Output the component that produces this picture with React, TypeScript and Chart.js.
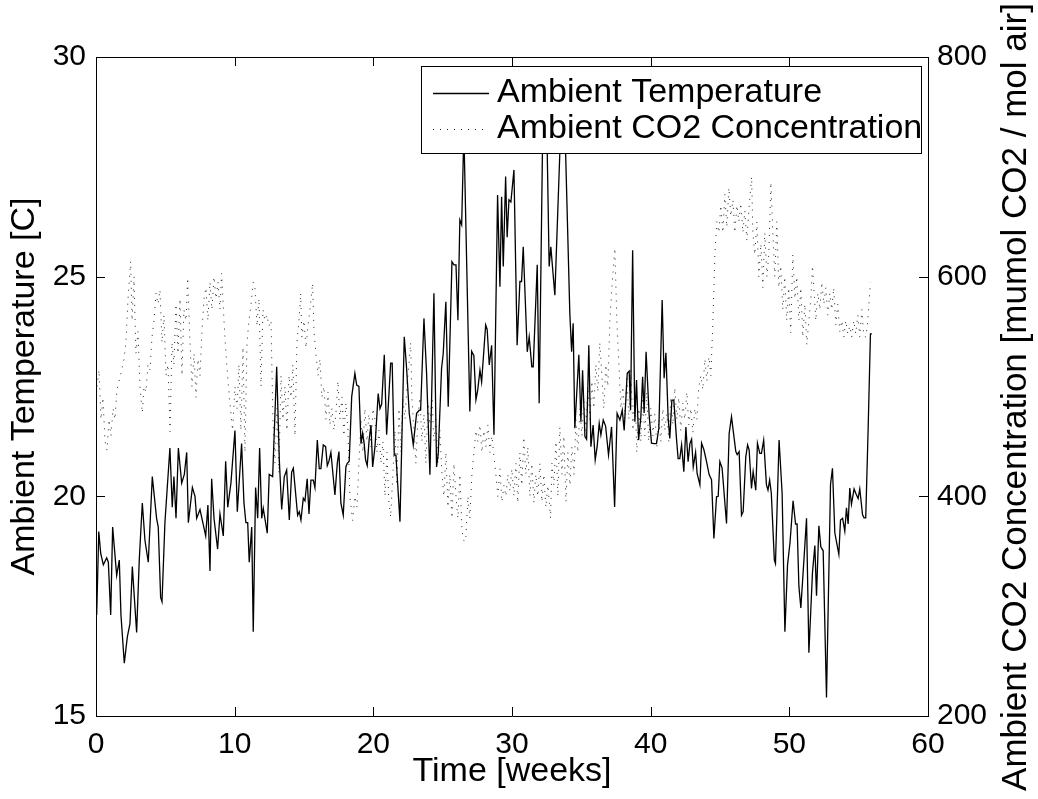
import { useEffect, useRef } from "react";
import { Chart, registerables } from "chart.js";

Chart.register(...registerables);

const FONT = '"Liberation Sans", Arial, Helvetica, sans-serif';

const xTicks = [0, 10, 20, 30, 40, 50, 60];
const tempTicks = [15, 20, 25, 30];
const co2Ticks = [200, 400, 600, 800];

const tempLabel = "Ambient Temperature";
const co2Label = "Ambient CO2 Concentration";
const xTitle = "Time [weeks]";
const leftTitle = "Ambient Temperature [C]";
const rightTitle = "Ambient CO2 Concentration [mumol CO2 / mol air]";

// [week, temperature C]
const tempSeries: [number, number][] = [
  [0.05, 17.3], [0.2, 19.2], [0.34, 18.7], [0.53, 18.44], [0.77, 18.6], [0.89, 18.5], [1.06, 17.3], [1.2, 19.3],
  [1.49, 18.2], [1.68, 18.55], [1.8, 17.3], [2.04, 16.2], [2.26, 16.8], [2.45, 17.1], [2.62, 18.4], [2.93, 16.9],
  [3.12, 18.55], [3.34, 19.85], [3.53, 19.0], [3.77, 18.5], [4.06, 20.45], [4.37, 19.5], [4.49, 19.3], [4.66, 17.7],
  [4.76, 17.6], [4.97, 19.4], [5.33, 21.1], [5.5, 19.75], [5.62, 20.45], [5.77, 19.5], [5.94, 21.1], [6.18, 20.3],
  [6.37, 20.5], [6.54, 21.0], [6.66, 19.4], [6.95, 20.2], [7.14, 20.0], [7.26, 19.5], [7.5, 19.7], [7.74, 19.35],
  [7.91, 19.1], [8.07, 19.8], [8.22, 18.3], [8.34, 20.4], [8.51, 19.5], [8.77, 18.8], [8.94, 19.6], [9.18, 19.1],
  [9.35, 20.8], [9.5, 19.75], [9.73, 20.3], [10.02, 21.5], [10.19, 19.65], [10.5, 21.2], [10.67, 19.85], [10.81, 19.4],
  [10.94, 19.4], [11.05, 18.5], [11.23, 19.3], [11.34, 16.92], [11.51, 20.2], [11.66, 19.5], [11.8, 21.1], [11.95, 19.5],
  [12.06, 19.73], [12.35, 19.16], [12.49, 20.5], [12.74, 20.45], [13.03, 22.95], [13.22, 20.83], [13.39, 19.7], [13.58, 20.45],
  [13.75, 20.6], [13.94, 19.46], [14.11, 20.55], [14.23, 20.64], [14.54, 19.57], [14.66, 19.65], [14.78, 19.46], [14.95, 19.96],
  [15.07, 19.9], [15.23, 20.4], [15.36, 19.6], [15.5, 20.37], [15.67, 20.37], [15.79, 20.2], [15.96, 21.28], [16.1, 20.63],
  [16.22, 20.63], [16.39, 21.17], [16.56, 21.13], [16.68, 20.7], [16.8, 20.8], [16.94, 21.0], [17.06, 20.6], [17.23, 20.03],
  [17.4, 20.75], [17.52, 21.02], [17.66, 19.85], [17.83, 19.57], [18.02, 20.67], [18.12, 20.75], [18.26, 20.8], [18.44, 22.27],
  [18.67, 22.8], [18.8, 22.53], [18.96, 22.5], [19.11, 21.2], [19.23, 21.44], [19.34, 21.2], [19.44, 20.83], [19.56, 20.7],
  [19.7, 21.3], [19.83, 21.62], [19.95, 20.67], [20.12, 21.13], [20.35, 22.34], [20.48, 22.0], [20.6, 22.1], [20.79, 23.22],
  [20.96, 21.4], [21.25, 23.03], [21.36, 23.03], [21.51, 20.94], [21.63, 20.94], [21.92, 19.42], [22.23, 23.63], [22.4, 22.91],
  [22.59, 21.89], [22.88, 21.17], [23.12, 21.89], [23.31, 21.96], [23.41, 21.96], [23.65, 24.05], [23.84, 22.8], [24.08, 20.49],
  [24.37, 24.62], [24.56, 20.67], [24.68, 20.97], [24.92, 22.91], [25.04, 23.25], [25.23, 24.43], [25.4, 22.04], [25.67, 25.34],
  [25.81, 25.27], [25.96, 25.27], [26.1, 24.01], [26.24, 26.29], [26.37, 26.18], [26.53, 28.3], [26.96, 21.93], [27.09, 23.3],
  [27.25, 23.2], [27.4, 22.2], [27.52, 22.4], [27.69, 22.87], [27.81, 22.6], [28.1, 23.9], [28.21, 23.8], [28.36, 22.99],
  [28.53, 23.44], [28.7, 21.4], [28.96, 26.86], [29.13, 24.77], [29.25, 26.82], [29.37, 25.23], [29.54, 27.28], [29.65, 25.9],
  [29.78, 26.75], [29.92, 26.7], [30.14, 27.43], [30.37, 23.44], [30.57, 24.89], [30.69, 24.89], [30.81, 25.68], [31.1, 23.29],
  [31.24, 23.63], [31.43, 22.95], [31.53, 22.95], [31.82, 25.27], [31.96, 22.12], [32.25, 29.2], [32.49, 28.8], [32.68, 25.23],
  [32.8, 25.68], [33.09, 24.58], [33.58, 29.0], [33.81, 28.5], [34.17, 24.17], [34.3, 23.29], [34.41, 23.94], [34.53, 21.55],
  [34.82, 23.22], [34.97, 21.7], [35.09, 22.87], [35.26, 21.36], [35.38, 21.3], [35.54, 23.44], [35.69, 21.13], [35.85, 21.62],
  [36.0, 20.83], [36.14, 21.13], [36.29, 21.66], [36.41, 21.4], [36.58, 21.74], [36.75, 21.6], [36.96, 20.94], [37.18, 21.58],
  [37.4, 19.76], [37.58, 21.89], [37.78, 21.74], [37.95, 21.96], [38.09, 21.5], [38.31, 22.8], [38.45, 22.85], [38.55, 21.96],
  [38.7, 25.6], [38.86, 21.7], [38.98, 22.65], [39.13, 21.28], [39.29, 21.8], [39.42, 22.72], [39.53, 21.9], [39.67, 23.29],
  [39.89, 21.85], [40.06, 21.21], [40.25, 21.2], [40.42, 21.2], [40.59, 21.55], [40.83, 24.47], [40.97, 22.69], [41.1, 23.27],
  [41.26, 21.78], [41.38, 21.32], [41.53, 22.19], [41.67, 22.19], [41.87, 21.28], [41.98, 20.86], [42.1, 20.86], [42.23, 21.17],
  [42.39, 20.56], [42.54, 21.58], [42.7, 20.79], [42.83, 21.2], [42.95, 21.3], [43.07, 20.67], [43.24, 21.0], [43.35, 20.52],
  [43.55, 20.26], [43.67, 21.21], [43.84, 21.06], [44.03, 20.79], [44.22, 20.49], [44.39, 20.38], [44.56, 19.04], [44.75, 19.99],
  [44.87, 20.0], [44.99, 20.79], [45.15, 20.65], [45.47, 19.38], [45.66, 21.43], [45.83, 21.81], [45.95, 21.5], [46.14, 21.02],
  [46.24, 20.95], [46.38, 21.02], [46.55, 19.57], [46.67, 19.65], [46.86, 20.9], [46.99, 21.17], [47.1, 21.06], [47.27, 20.18],
  [47.39, 20.56], [47.58, 20.14], [47.7, 21.21], [47.87, 20.98], [47.99, 20.98], [48.15, 21.28], [48.35, 20.26], [48.46, 20.14],
  [48.58, 20.37], [48.7, 20.07], [48.92, 18.55], [49.0, 18.47], [49.26, 21.28], [49.48, 20.07], [49.68, 16.92], [49.87, 18.44],
  [50.05, 18.95], [50.27, 19.9], [50.45, 19.37], [50.56, 19.37], [50.69, 17.95], [50.83, 17.46], [51.07, 18.64], [51.24, 19.5],
  [51.41, 16.44], [51.67, 18.27], [51.84, 18.88], [51.96, 17.74], [52.13, 19.33], [52.27, 18.85], [52.44, 18.76], [52.68, 15.42],
  [52.97, 20.27], [53.11, 20.64], [53.28, 19.17], [53.57, 18.68], [53.69, 19.46], [53.84, 19.5], [54.0, 19.21], [54.12, 19.74],
  [54.24, 19.37], [54.36, 20.19], [54.48, 19.82], [54.67, 20.17], [54.79, 20.07], [54.96, 19.95], [55.08, 20.17], [55.28, 19.58],
  [55.39, 19.51], [55.51, 19.51], [55.68, 21.5], [55.85, 23.7], [55.95, 23.7],
];

// [week, CO2 mumol/mol]
const co2Series: [number, number][] = [
  [0.07, 500], [0.22, 515], [0.36, 470], [0.5, 490], [0.65, 450], [0.79, 442], [0.94, 470], [1.08, 455], [1.23, 480], [1.37, 470],
  [1.51, 497], [1.66, 505], [1.8, 512], [2.02, 525], [2.16, 540], [2.31, 580], [2.5, 614], [2.6, 560], [2.74, 600], [2.88, 530],
  [3.03, 550], [3.17, 500], [3.34, 476], [3.46, 500], [3.6, 495], [3.75, 520], [3.89, 515], [4.04, 545], [4.18, 560], [4.33, 585],
  [4.47, 575], [4.61, 588], [4.76, 540], [4.9, 565], [5.05, 510], [5.19, 520], [5.34, 459], [5.48, 540], [5.62, 520], [5.77, 575],
  [5.91, 530], [6.06, 580], [6.2, 510], [6.34, 570], [6.49, 560], [6.61, 599], [6.78, 540], [6.92, 500], [7.07, 530], [7.21, 490],
  [7.35, 525], [7.5, 510], [7.64, 550], [7.79, 580], [7.93, 590], [8.07, 560], [8.22, 595], [8.36, 570], [8.51, 600], [8.65, 580],
  [8.8, 595], [8.94, 570], [9.06, 603], [9.23, 560], [9.37, 530], [9.52, 505], [9.66, 485], [9.85, 460], [10.02, 500], [10.17, 480],
  [10.31, 520], [10.45, 460], [10.6, 536], [10.74, 440], [10.89, 540], [11.03, 560], [11.18, 575], [11.34, 595], [11.46, 590], [11.61, 555],
  [11.75, 580], [11.9, 500], [12.04, 570], [12.18, 560], [12.33, 565], [12.47, 555], [12.62, 560], [12.76, 470], [12.9, 430], [13.05, 480],
  [13.19, 421], [13.34, 510], [13.48, 470], [13.63, 500], [13.77, 460], [13.92, 510], [14.06, 490], [14.2, 520], [14.35, 455], [14.49, 540],
  [14.64, 560], [14.76, 585], [14.85, 545], [15.0, 560], [15.14, 535], [15.28, 555], [15.43, 570], [15.62, 594], [15.72, 550], [15.86, 530],
  [16.01, 510], [16.15, 525], [16.29, 490], [16.44, 500], [16.58, 470], [16.73, 495], [16.87, 465], [17.02, 480], [17.16, 460], [17.3, 475],
  [17.45, 505], [17.59, 470], [17.74, 490], [17.88, 455], [18.02, 485], [18.17, 460], [18.31, 400], [18.51, 378], [18.67, 400], [18.82, 390],
  [18.96, 430], [19.11, 470], [19.25, 440], [19.39, 480], [19.54, 450], [19.68, 475], [19.83, 445], [19.97, 480], [20.12, 470], [20.26, 440],
  [20.4, 460], [20.55, 430], [20.69, 450], [20.84, 400], [20.98, 440], [21.12, 395], [21.25, 381], [21.41, 420], [21.56, 460], [21.7, 410],
  [21.85, 480], [21.99, 440], [22.13, 490], [22.28, 470], [22.42, 500], [22.57, 520], [22.69, 540], [22.78, 490], [22.93, 460], [23.07, 430],
  [23.21, 470], [23.36, 490], [23.5, 450], [23.65, 475], [23.79, 430], [23.94, 485], [24.08, 465], [24.23, 490], [24.37, 450], [24.51, 470],
  [24.66, 430], [24.8, 460], [24.95, 420], [25.09, 400], [25.23, 440], [25.38, 390], [25.52, 420], [25.67, 380], [25.81, 430], [25.96, 400],
  [26.1, 380], [26.24, 420], [26.39, 370], [26.51, 360], [26.66, 359], [26.82, 400], [26.96, 380], [27.11, 420], [27.25, 440], [27.4, 460],
  [27.54, 450], [27.69, 465], [27.83, 440], [27.97, 460], [28.12, 445], [28.26, 465], [28.41, 440], [28.55, 455], [28.7, 436], [28.84, 420],
  [28.98, 400], [29.13, 425], [29.27, 395], [29.42, 410], [29.56, 400], [29.7, 420], [29.85, 405], [29.99, 425], [30.14, 400], [30.28, 430],
  [30.42, 394], [30.57, 440], [30.71, 410], [30.85, 454], [31.0, 420], [31.14, 445], [31.29, 400], [31.43, 430], [31.58, 394], [31.72, 420],
  [31.86, 400], [32.01, 430], [32.16, 395], [32.3, 420], [32.44, 390], [32.59, 410], [32.78, 380], [32.88, 430], [33.02, 410], [33.17, 450],
  [33.31, 400], [33.45, 463], [33.6, 420], [33.74, 455], [33.89, 395], [34.03, 440], [34.18, 410], [34.32, 445], [34.47, 420], [34.61, 470],
  [34.75, 440], [34.9, 480], [35.04, 455], [35.18, 490], [35.33, 460], [35.47, 500], [35.62, 470], [35.76, 505], [35.9, 480], [36.05, 520],
  [36.19, 495], [36.33, 540], [36.48, 510], [36.62, 480], [36.77, 520], [36.91, 500], [37.06, 560], [37.2, 590], [37.42, 626], [37.56, 560],
  [37.71, 520], [37.85, 480], [38.0, 500], [38.14, 470], [38.28, 510], [38.43, 470], [38.57, 515], [38.72, 460], [38.86, 500], [39.0, 440],
  [39.15, 480], [39.29, 450], [39.43, 490], [39.58, 455], [39.72, 495], [39.86, 450], [40.01, 480], [40.16, 455], [40.3, 475], [40.45, 445],
  [40.59, 470], [40.73, 450], [40.88, 480], [41.02, 460], [41.17, 475], [41.31, 450], [41.45, 490], [41.6, 465], [41.74, 499], [41.89, 470],
  [42.03, 490], [42.17, 460], [42.32, 485], [42.46, 470], [42.61, 495], [42.75, 465], [42.9, 480], [43.04, 458], [43.19, 480], [43.33, 470],
  [43.47, 500], [43.62, 510], [43.76, 497], [43.91, 525], [44.05, 505], [44.2, 527], [44.34, 510], [44.49, 560], [44.63, 620], [44.77, 650],
  [44.92, 640], [45.06, 665], [45.21, 640], [45.35, 675], [45.49, 645], [45.64, 681], [45.78, 655], [45.93, 670], [46.07, 640], [46.22, 665],
  [46.36, 650], [46.5, 667], [46.65, 640], [46.79, 660], [46.94, 633], [47.08, 660], [47.28, 691], [47.37, 640], [47.51, 620], [47.66, 650],
  [47.8, 600], [47.95, 630], [48.09, 590], [48.23, 640], [48.38, 600], [48.52, 620], [48.67, 686], [48.81, 640], [48.95, 600], [49.1, 650],
  [49.24, 590], [49.38, 610], [49.53, 570], [49.67, 600], [49.81, 560], [49.96, 590], [50.1, 549], [50.25, 620], [50.4, 580], [50.54, 600],
  [50.69, 560], [50.83, 590], [50.97, 545], [51.12, 575], [51.26, 538], [51.41, 560], [51.55, 580], [51.67, 610], [51.77, 590], [51.91, 560],
  [52.06, 585], [52.2, 570], [52.34, 595], [52.49, 575], [52.63, 590], [52.77, 565], [52.92, 585], [53.06, 570], [53.2, 590], [53.35, 556],
  [53.49, 575], [53.64, 550], [53.78, 560], [53.93, 545], [54.07, 560], [54.22, 548], [54.36, 555], [54.5, 545], [54.65, 560], [54.79, 548],
  [54.94, 565], [55.08, 545], [55.23, 570], [55.37, 546], [55.52, 545], [55.66, 560], [55.85, 595],
];

const TICK_LEN = 9;
const TICK_SIZE = 30;
const TITLE_SIZE = 34;

const matlabFrame = {
  id: "matlabFrame",
  afterDraw(chart: any) {
    const { ctx, chartArea: a, scales } = chart;
    ctx.save();
    ctx.strokeStyle = "#000";
    ctx.lineWidth = 1;
    ctx.setLineDash([]);
    ctx.beginPath();
    const top = Math.round(a.top) + 0.5;
    ctx.moveTo(a.left, top);
    ctx.lineTo(a.right, top);
    for (const t of scales.x.ticks) {
      const p = Math.round(scales.x.getPixelForValue(t.value)) + 0.5;
      ctx.moveTo(p, a.bottom);
      ctx.lineTo(p, a.bottom - TICK_LEN);
      ctx.moveTo(p, a.top);
      ctx.lineTo(p, a.top + TICK_LEN);
    }
    for (const t of scales.y.ticks) {
      const p = Math.round(scales.y.getPixelForValue(t.value)) + 0.5;
      ctx.moveTo(a.left, p);
      ctx.lineTo(a.left + TICK_LEN, p);
    }
    for (const t of scales.y1.ticks) {
      const p = Math.round(scales.y1.getPixelForValue(t.value)) + 0.5;
      ctx.moveTo(a.right, p);
      ctx.lineTo(a.right - TICK_LEN, p);
    }
    ctx.stroke();

    // legend box (MATLAB style, inside top-right)
    const bl = 421.5, br = a.right - 6.5, bt = a.top + 9.5, bb = a.top + 96.5;
    ctx.fillStyle = "#fff";
    ctx.fillRect(bl, bt, br - bl, bb - bt);
    ctx.strokeRect(bl, bt, br - bl, bb - bt);
    const rows = [bt + 26, bt + 62];
    const ds = chart.data.datasets;
    ctx.font = `${TITLE_SIZE}px ${FONT}`;
    ctx.textBaseline = "middle";
    ctx.textAlign = "left";
    ds.forEach((d: any, i: number) => {
      const y = Math.round(rows[i]) + 0.5;
      ctx.beginPath();
      ctx.strokeStyle = d.borderColor;
      ctx.lineWidth = d.borderWidth;
      ctx.setLineDash(d.borderDash || []);
      ctx.moveTo(433, y);
      ctx.lineTo(489, y);
      ctx.stroke();
      ctx.setLineDash([]);
      ctx.fillStyle = "#000";
      ctx.fillText(d.label, 497, rows[i]);
    });

    // right axis title, reading bottom-to-top like MATLAB
    ctx.translate(1016, 397);
    ctx.rotate(-Math.PI / 2);
    ctx.textAlign = "center";
    ctx.textBaseline = "middle";
    ctx.fillStyle = "#000";
    ctx.font = `35px ${FONT}`;
    ctx.fillText(rightTitle, 0, 0);
    ctx.restore();
  },
};

export default function App() {
  const ref = useRef<HTMLCanvasElement | null>(null);

  useEffect(() => {
    if (!ref.current) return;
    const chart = new Chart(ref.current, {
      type: "line",
      data: {
        datasets: [
          {
            label: tempLabel,
            data: tempSeries.map(([x, y]) => ({ x, y })),
            yAxisID: "y",
            borderColor: "#000",
            borderWidth: 1.3,
            pointRadius: 0,
            tension: 0,
            fill: false,
          },
          {
            label: co2Label,
            data: co2Series.map(([x, y]) => ({ x, y })),
            yAxisID: "y1",
            borderColor: "#222",
            borderWidth: 1,
            borderDash: [1, 6],
            pointRadius: 0,
            tension: 0,
            fill: false,
          },
        ],
      },
      options: {
        animation: false,
        responsive: false,
        devicePixelRatio: 1,
        layout: { padding: { top: 57, left: 0, right: 0, bottom: 0 } },
        plugins: { legend: { display: false }, tooltip: { enabled: false } },
        scales: {
          x: {
            type: "linear",
            position: "bottom",
            min: xTicks[0],
            max: xTicks[xTicks.length - 1],
            grid: { display: false, drawTicks: false },
            border: { display: true, color: "#000", width: 1 },
            ticks: { color: "#000", font: { family: FONT, size: TICK_SIZE }, padding: 11, maxRotation: 0 },
            afterBuildTicks: (s: any) => { s.ticks = xTicks.map((v) => ({ value: v })); },
            afterFit: (s: any) => { s.height = 83; },
            title: { display: true, text: xTitle, color: "#000", font: { family: FONT, size: TITLE_SIZE }, padding: { top: 0, bottom: 6.5 } },
          },
          y: {
            type: "linear",
            position: "left",
            min: tempTicks[0],
            max: tempTicks[tempTicks.length - 1],
            grid: { display: false, drawTicks: false },
            border: { display: true, color: "#000", width: 1 },
            ticks: { color: "#000", font: { family: FONT, size: TICK_SIZE }, padding: 10 },
            afterBuildTicks: (s: any) => { s.ticks = tempTicks.map((v) => ({ value: v })); },
            afterFit: (s: any) => { s.width = 96; },
            title: { display: true, text: leftTitle, color: "#000", font: { family: FONT, size: TITLE_SIZE }, padding: { top: 4.5, bottom: 0 } },
          },
          y1: {
            type: "linear",
            position: "right",
            min: co2Ticks[0],
            max: co2Ticks[co2Ticks.length - 1],
            grid: { display: false, drawTicks: false },
            border: { display: true, color: "#000", width: 1 },
            ticks: { color: "#000", font: { family: FONT, size: TICK_SIZE }, padding: 9 },
            afterBuildTicks: (s: any) => { s.ticks = co2Ticks.map((v) => ({ value: v })); },
            afterFit: (s: any) => { s.width = 110; },
            title: { display: false },
          },
        },
      },
      plugins: [matlabFrame],
    });
    return () => chart.destroy();
  }, []);

  return (
    <div style={{ position: "absolute", left: 0, top: 0, width: 1038, height: 799, background: "#fff" }}>
      <canvas ref={ref} width={1038} height={799} style={{ display: "block" }} />
    </div>
  );
}
